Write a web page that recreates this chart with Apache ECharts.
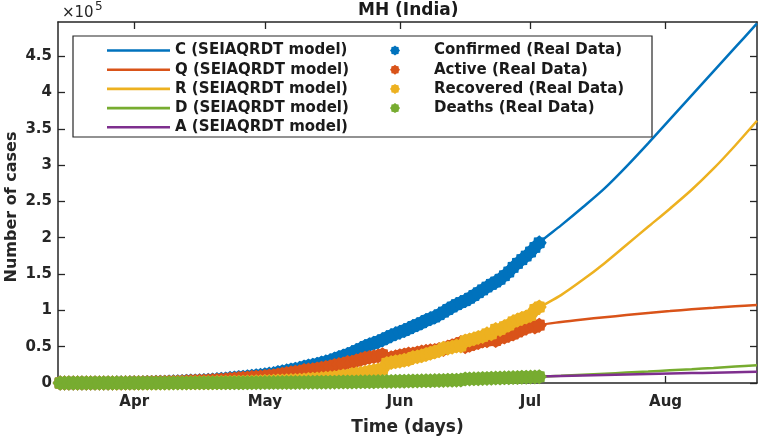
<!DOCTYPE html>
<html><head><meta charset="utf-8">
<script src="https://cdn.jsdelivr.net/npm/echarts@6/dist/echarts.min.js"></script>
<style>html,body{margin:0;padding:0;background:#fff}#c{width:762px;height:437px}</style>
</head><body><div id="c"></div>
<script>
// ---------- data ----------
const realStart = '2020-03-15';   // daily real data, Mar 15 .. Jul 3
const confirmed = [
 32,39,41,45,48,52,64,74,97,107,122,130,153,186,203,220,302,
 335,423,490,635,748,868,1018,1135,1364,1574,1761,1982,2334,2684,2916,3202,3323,3648,4200,4666,5218,5649,6427,6817,7628,8068,8590,9318,9915,10498,
 11506,12296,12974,14541,15525,16758,17974,19063,20228,22171,23401,24427,25922,27524,29100,30706,33053,35058,37136,39297,41642,44582,47190,50231,52667,54758,56948,59546,62228,65168,67655,
 70013,72300,74860,77793,80229,82968,85975,88528,90787,94041,97648,101141,104568,107958,110744,113445,116752,120504,124331,128205,132075,135796,139010,142900,147741,152765,159133,164626,169883,174761,
 180298,186626,192990];
const active = [
 32,39,40,44,47,51,62,72,94,103,118,125,123,155,171,177,253,
 280,361,414,553,647,760,875,946,1142,1276,1426,1625,1957,2277,2434,2708,2791,3087,3470,3862,4245,4591,5304,5559,6229,6538,6939,7530,7890,8266,
 8985,9633,9943,11139,12089,13013,13979,14862,15649,17140,17747,18381,19400,20446,21468,22483,24167,25372,26172,28268,28462,30482,32209,33996,35186,36012,37133,38948,33133,34890,36040,
 37543,38502,39944,39927,41349,42609,43601,44384,44860,46086,46262,49456,51392,53030,55638,50057,51935,53915,55665,57882,58086,61559,58479,62177,63182,65677,67459,70441,73068,75797,
 78966,77078,79632];
const recovered = [
 0,0,0,0,0,0,0,0,0,1,1,1,25,25,25,35,39,
 42,42,50,50,56,56,79,117,125,188,208,208,217,229,295,300,331,350,507,572,722,789,840,957,1076,1188,1282,1388,1593,1773,
 2000,2115,2465,2819,2819,3094,3301,3470,3800,4199,4786,5125,5547,6059,6564,7088,7688,8437,9639,9639,11726,12583,13404,14600,15786,16954,17918,18616,26997,28081,29329,
 30108,31333,32329,35156,36031,37390,39314,40975,42638,44517,47796,47968,49346,50978,50978,57851,59166,60838,62773,64153,67706,67706,73792,73792,77453,79815,84245,86575,88960,90911,
 93154,101172,104687];
const deaths = [
 0,0,1,1,1,1,2,2,3,3,3,4,5,6,7,8,10,
 13,20,26,32,45,52,64,72,97,110,127,149,160,178,187,194,201,211,223,232,251,269,283,301,323,342,369,400,432,459,
 521,548,566,583,617,651,694,731,779,832,868,921,975,1019,1068,1135,1198,1249,1325,1390,1454,1517,1577,1635,1695,1792,1897,1982,2098,2197,2286,
 2362,2465,2587,2710,2849,2969,3060,3169,3289,3438,3590,3717,3830,3950,4128,5537,5651,5751,5893,6170,6283,6531,6739,6931,7106,7273,7429,7610,7855,8053,
 8178,8376,8671];

const modelDates = ['2020-03-15','2020-03-20','2020-03-25','2020-03-30','2020-04-04','2020-04-09','2020-04-14','2020-04-19','2020-04-24','2020-04-29',
 '2020-05-04','2020-05-09','2020-05-14','2020-05-19','2020-05-24','2020-05-29','2020-06-03','2020-06-08','2020-06-13','2020-06-18','2020-06-23','2020-06-28',
 '2020-07-03','2020-07-08','2020-07-13','2020-07-18','2020-07-23','2020-07-28','2020-08-02','2020-08-07','2020-08-12','2020-08-17','2020-08-22'];
const modelC = [30,55,125,230,620,1300,2600,4300,6900,9900,14000,20000,27000,37000,49500,62000,75000,88500,104000,120500,139000,163000,
 193000,217000,242000,268000,298000,330000,363000,396000,429000,462000,495000];
const modelQ = [30,50,115,200,520,1100,2200,3400,5500,7900,11000,15500,20300,26000,32500,36500,39500,44000,50000,54500,60000,69000,
 79500,84000,87500,90500,93500,96500,99000,101500,103500,105500,107500];
const modelR = [0,0,1,30,55,140,240,450,950,1600,2600,3800,5800,8800,14000,21500,31000,39500,48500,59000,70500,85000,
 104000,121000,142000,165000,190000,215000,240000,266000,295000,327000,361000];
const modelD = [0,1,3,8,35,100,175,225,305,430,585,780,1020,1320,1640,2100,2590,3170,3830,4800,6700,7600,
 8700,10000,11400,12800,14300,15800,17400,19000,20700,22600,24500];
const modelA = [10,20,40,80,160,300,500,800,1200,1700,2300,3000,3800,4600,5400,6100,6700,7200,7700,8100,8500,8800,
 9000,9700,10400,11100,11800,12400,13000,13600,14200,14800,15400];

const monthTickDates = ['2020-04-01','2020-05-01','2020-06-01','2020-07-01','2020-08-01'];
const monthLabels = ['Apr','May','Jun','Jul','Aug'];
const yTickValues = [0,50000,100000,150000,200000,250000,300000,350000,400000,450000];
const yTickLabels = ['0','0.5','1','1.5','2','2.5','3','3.5','4','4.5'];
const xRangeDates = ['2020-03-14T12:00:00Z','2020-08-22T00:00:00Z'];
const yMax = 497000;

// ---------- helpers ----------
const ORIGIN = Date.parse('2020-04-01T00:00:00Z');
function dayOf(s){ const t = s.length > 10 ? Date.parse(s) : Date.parse(s + 'T00:00:00Z'); return (t - ORIGIN) / 864e5; }
const startDay = dayOf(realStart);
const realDays = confirmed.map((_, i) => startDay + i);
const modelDays = modelDates.map(dayOf);
const monthTicks = monthTickDates.map(dayOf);

function starPath(n, rOut, rIn){
  let p = '';
  for (let i = 0; i < 2*n; i++){
    const r = i % 2 ? rIn : rOut;
    const a = Math.PI * i / n - Math.PI/2;
    p += (i ? 'L' : 'M') + (r*Math.cos(a)).toFixed(3) + ' ' + (r*Math.sin(a)).toFixed(3);
  }
  return 'path://' + p + 'Z';
}
const STAR = starPath(8, 10, 8.2);
const LINE_ICON = 'path://M0 0L63 0L63 2.6L0 2.6Z';

const COL = {C:'#0072BD', Q:'#D95319', R:'#EDB120', D:'#77AC30', A:'#7E2F8E'};
const FONT = 'DejaVu Sans';
const AX = '#262626';

function lineSeries(name, vals, color){
  return {name, type:'line', xAxisIndex:0, yAxisIndex:0, data: modelDays.map((d,i)=>[d, vals[i]]),
    symbol:'none', showSymbol:false, smooth:0.3, lineStyle:{color, width:2.5}, itemStyle:{color}, z:2};
}
function scatterSeries(name, vals, color){
  return {name, type:'scatter', xAxisIndex:0, yAxisIndex:0, data: realDays.map((d,i)=>[d, vals[i]]),
    symbol: STAR, symbolSize: 15, itemStyle:{color, opacity:1}, clip:false, z:3};
}

const xBase = {
  type:'value', min: dayOf(xRangeDates[0]), max: dayOf(xRangeDates[1]),
  axisLine:{show:true, onZero:false, lineStyle:{color:AX, width:1.5}},
  axisTick:{show:true, inside:true, length:7, lineStyle:{color:AX, width:1.3}, customValues: monthTicks},
  splitLine:{show:false}
};
const yBase = {
  type:'value', min:0, max:yMax,
  axisLine:{show:true, onZero:false, lineStyle:{color:AX, width:1.5}},
  axisTick:{show:true, inside:true, length:7, lineStyle:{color:AX, width:1.3}, customValues: yTickValues},
  splitLine:{show:false}
};

const lineNames = ['C (SEIAQRDT model)','Q (SEIAQRDT model)','R (SEIAQRDT model)','D (SEIAQRDT model)','A (SEIAQRDT model)'];
const realNames = ['Confirmed (Real Data)','Active (Real Data)','Recovered (Real Data)','Deaths (Real Data)'];

const chart = echarts.init(document.getElementById('c'), null, {renderer:'canvas'});
chart.setOption({
  animation:false,
  backgroundColor:'#fff',
  title:{text:'MH (India)', left:358, top:2, padding:0,
    textStyle:{fontFamily:FONT, fontWeight:'bold', fontSize:17, color:'#1a1a1a'}},
  grid:{left:58, top:22, width:699, height:361, containLabel:false, outerBoundsMode:'none'},
  xAxis:[
    Object.assign({}, xBase, {position:'bottom', name:'Time (days)', nameLocation:'middle', nameGap:36, nameMoveOverlap:false,
      nameTextStyle:{fontFamily:FONT, fontWeight:'bold', fontSize:17, color:AX},
      axisLabel:{show:true, margin:12, customValues: monthTicks, fontFamily:FONT, fontWeight:'bold', fontSize:15, color:AX,
        formatter:(v)=>{ const k = monthTicks.findIndex(t=>Math.abs(t-v)<0.01); return k>=0 ? monthLabels[k] : ''; }}}),
    Object.assign({}, xBase, {position:'top', axisLabel:{show:false}})
  ],
  yAxis:[
    Object.assign({}, yBase, {position:'left', name:'Number of cases', nameLocation:'middle', nameGap:38, nameMoveOverlap:false,
      nameTextStyle:{fontFamily:FONT, fontWeight:'bold', fontSize:16, color:AX, padding:[0,9,0,0]},
      axisLabel:{show:true, margin:6, padding:[3,0,0,0], customValues: yTickValues, fontFamily:FONT, fontWeight:'bold', fontSize:15, color:AX,
        formatter:(v)=>{ const k = yTickValues.findIndex(t=>Math.abs(t-v)<1); return k>=0 ? yTickLabels[k] : ''; }}}),
    Object.assign({}, yBase, {position:'right', axisLabel:{show:false}})
  ],
  legend:[
    {data: lineNames.map(n=>({name:n, icon:LINE_ICON})),
     orient:'vertical', left:107, top:43, padding:0, itemWidth:63, itemHeight:10, itemGap:4.2, selectedMode:false, z:5,
     textStyle:{fontFamily:FONT, fontWeight:'bold', fontSize:15, color:'#1a1a1a'}},
    {data: realNames,
     orient:'vertical', left:390, top:43, padding:0, itemWidth:68, itemHeight:10, itemGap:4.2, selectedMode:false, z:5,
     textStyle:{fontFamily:FONT, fontWeight:'bold', fontSize:15, color:'#1a1a1a'}}
  ],
  graphic:[
    {type:'rect', z:4, shape:{x:73, y:36, width:579, height:101}, style:{fill:'#fff', stroke:AX, lineWidth:1.2}},
    {type:'text', z:5, x:62, y:6, style:{text:'×10', fontFamily:FONT, fontSize:15, fill:AX}},
    {type:'text', z:5, x:95, y:1, style:{text:'5', fontFamily:FONT, fontSize:12, fill:AX}}
  ],
  series:[
    lineSeries(lineNames[0], modelC, COL.C),
    lineSeries(lineNames[1], modelQ, COL.Q),
    lineSeries(lineNames[2], modelR, COL.R),
    lineSeries(lineNames[3], modelD, COL.D),
    lineSeries(lineNames[4], modelA, COL.A),
    scatterSeries(realNames[0], confirmed, COL.C),
    scatterSeries(realNames[1], active, COL.Q),
    scatterSeries(realNames[2], recovered, COL.R),
    scatterSeries(realNames[3], deaths, COL.D)
  ]
});
</script></body></html>
